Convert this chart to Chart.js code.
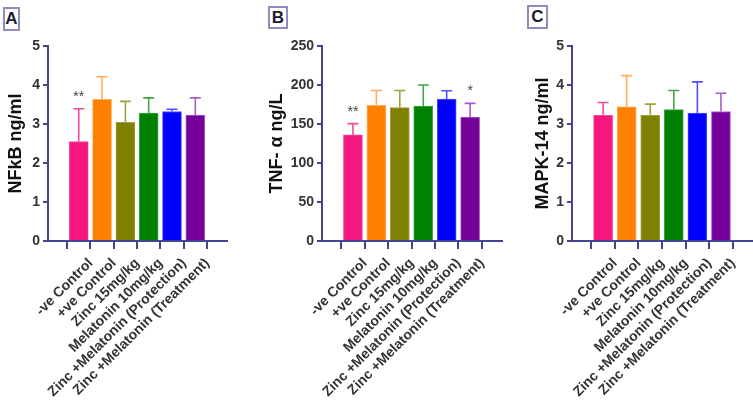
<!DOCTYPE html>
<html>
<head>
<meta charset="utf-8">
<script src="https://cdn.jsdelivr.net/npm/chart.js@4/dist/chart.umd.min.js"></script>
<style>
  body { margin: 0; background: #fff; width: 753px; height: 405px; position: relative; overflow: hidden; }
  canvas { position: absolute; top: 0; }
  .tag {
    position: absolute; box-sizing: border-box; border: 2px solid #8c8cc0;
    font: bold 17px 'Liberation Sans', Arial, sans-serif; color: #1c1c30;
    text-align: center; line-height: 20px;
  }
</style>
</head>
<body>
<div class="tag" style="left:3px;top:7px;width:17px;height:24px;">A</div>
<div class="tag" style="left:268px;top:6px;width:20px;height:23px;">B</div>
<div class="tag" style="left:527px;top:5px;width:21px;height:24px;">C</div>
<canvas id="chartA" width="250" height="405" style="left:0px"></canvas>
<canvas id="chartB" width="260" height="405" style="left:250px"></canvas>
<canvas id="chartC" width="253" height="405" style="left:500px"></canvas>
<script>
// groups (x categories)
const groups = ['-ve Control', '+ve Control', 'Zinc 15mg/kg', 'Melatonin 10mg/kg',
  'Zinc +Melatonin (Protection)', 'Zinc +Melatonin (Treatment)'];

// panel A - NFkB
const nfkbMean = [2.55, 3.63, 3.04, 3.28, 3.32, 3.23];
const nfkbSd = [0.84, 0.58, 0.54, 0.39, 0.06, 0.44];
const nfkbSig = ['**', '', '', '', '', ''];
const nfkbTicks = [0, 1, 2, 3, 4, 5];

// panel B - TNF-alpha
const tnfMean = [136, 174, 171, 173, 182, 159];
const tnfSd = [14.5, 19, 22, 27, 10.6, 17.5];
const tnfSig = ['**', '', '', '', '', '*'];
const tnfTicks = [0, 50, 100, 150, 200, 250];

// panel C - MAPK-14
const mapkMean = [3.22, 3.44, 3.22, 3.37, 3.28, 3.32];
const mapkSd = [0.33, 0.80, 0.29, 0.49, 0.80, 0.47];
const mapkSig = ['', '', '', '', '', ''];
const mapkTicks = [0, 1, 2, 3, 4, 5];

const barColors = ['#f5177f', '#ff7f00', '#7f7f00', '#008000', '#0000ff', '#76009a'];
const errColors = ['#f04c9c', '#ffae5a', '#a0a03c', '#45a545', '#5050ff', '#a85cc4'];
const axisColor = '#44448f';
const FONT = "'Liberation Sans', Arial, sans-serif";

// whiskers + significance stars, placed through the chart scales
const errorBarPlugin = {
  id: 'errorBars',
  afterDatasetsDraw(chart, args, opts) {
    const ctx = chart.ctx;
    const xs = chart.scales.x, ys = chart.scales.y;
    const means = chart.data.datasets[0].data;
    ctx.save();
    means.forEach((pt, i) => {
      const px = xs.getPixelForValue(pt.x);
      const yTop = ys.getPixelForValue(pt.y);
      const yErr = ys.getPixelForValue(pt.y + opts.sd[i]);
      ctx.strokeStyle = errColors[i];
      ctx.lineWidth = 1.6;
      ctx.beginPath();
      ctx.moveTo(px, yTop);
      ctx.lineTo(px, yErr);
      ctx.moveTo(px - 5.5, yErr);
      ctx.lineTo(px + 5.5, yErr);
      ctx.stroke();
      if (opts.sig[i]) {
        ctx.fillStyle = '#444';
        ctx.font = '14px ' + FONT;
        ctx.textAlign = 'center';
        ctx.textBaseline = 'alphabetic';
        ctx.fillText(opts.sig[i], px, yErr - 8);
      }
    });
    ctx.restore();
  }
};

function makePanel(id, mean, sd, sig, yTicks, title, padLeft, yWidth, padRight) {
  const ctx = document.getElementById(id).getContext('2d');
  return new Chart(ctx, {
    type: 'bar',
    data: {
      datasets: [{
        data: mean.map((v, i) => ({ x: i, y: v })),
        backgroundColor: barColors,
        borderColor: errColors,
        borderWidth: 1,
        barThickness: 19
      }]
    },
    options: {
      responsive: false,
      animation: false,
      devicePixelRatio: 1,
      layout: { padding: { left: padLeft, top: 46, right: padRight, bottom: 0 } },
      plugins: {
        legend: { display: false },
        tooltip: { enabled: false },
        errorBars: { sd: sd, sig: sig }
      },
      scales: {
        x: {
          type: 'linear',
          min: -0.68,
          max: 5.72,
          afterBuildTicks: s => { s.ticks = groups.map((g, i) => ({ value: i })); },
          afterFit: s => { s.height = 164; },
          ticks: {
            autoSkip: false,
            minRotation: 45,
            maxRotation: 45,
            padding: 6,
            labelOffset: 12,
            color: '#333',
            font: { family: FONT, size: 14, weight: 'bold' },
            callback: v => groups[v]
          },
          grid: { drawOnChartArea: false, color: axisColor, lineWidth: 2, tickLength: 8 },
          border: { color: axisColor, width: 2 }
        },
        y: {
          min: yTicks[0],
          max: yTicks[yTicks.length - 1],
          afterBuildTicks: s => { s.ticks = yTicks.map(v => ({ value: v })); },
          afterFit: s => { s.width = yWidth; },
          title: {
            display: true,
            text: title,
            color: '#111',
            font: { family: FONT, size: 18, weight: 'bold' },
            padding: { top: 4, bottom: 4 }
          },
          ticks: {
            padding: 3,
            color: '#333',
            font: { family: FONT, size: 14, weight: 'bold' }
          },
          grid: { drawOnChartArea: false, color: axisColor, lineWidth: 2, tickLength: 5 },
          border: { color: axisColor, width: 2 }
        }
      }
    },
    plugins: [errorBarPlugin]
  });
}

makePanel('chartA', nfkbMean, nfkbSd, nfkbSig, nfkbTicks, 'NFkB ng/ml', 1, 47, 23);
makePanel('chartB', tnfMean, tnfSd, tnfSig, tnfTicks, 'TNF- α ng/L', 12, 60, 8);
makePanel('chartC', mapkMean, mapkSd, mapkSig, mapkTicks, 'MAPK-14 ng/ml', 28, 44, 0);
</script>
</body>
</html>
